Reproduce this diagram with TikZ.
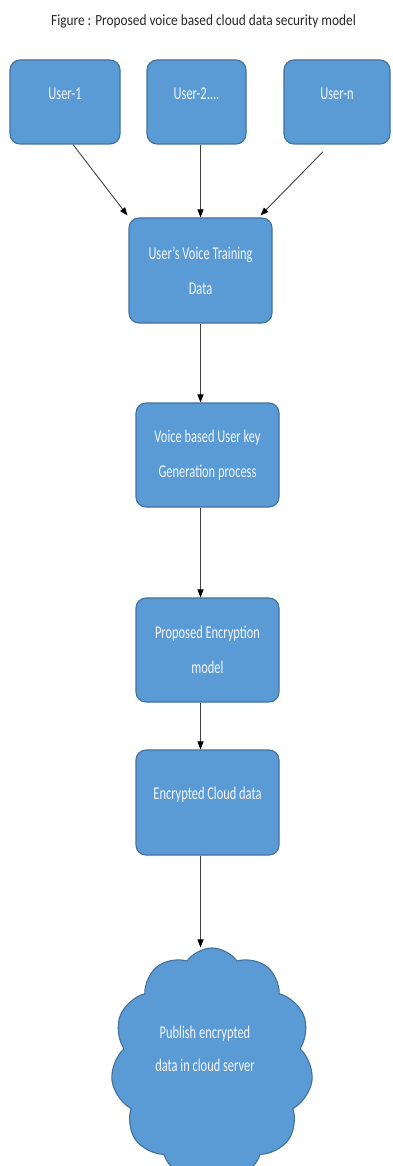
\documentclass[tikz,border=0pt]{standalone}
\usepackage{fontspec}
\setmainfont{Carlito}
\newfontfamily\boxfont{Carlito}[FakeStretch=0.69]
\newfontfamily\titlefont{Carlito}[FakeStretch=0.86]
\usetikzlibrary{shapes.symbols,arrows.meta}
\definecolor{boxfill}{HTML}{5B9BD5}
\definecolor{boxline}{HTML}{41719C}
\definecolor{boxtext}{HTML}{F2F6FB}
\definecolor{titletext}{HTML}{262626}
\definecolor{linegray}{HTML}{404040}
\tikzset{
  box/.style={draw=boxline, line width=1.1pt, fill=boxfill, rounded corners=10pt,
    inner sep=0pt, align=center, text=boxtext,
    font=\boxfont\fontsize{18}{35}\selectfont},
  flow/.style={draw=linegray, line width=0.9pt, -{Triangle[length=8pt,width=6pt,color=black,fill=black]}},
}
\newcommand{\upline}[1]{\raisebox{8pt}[\height][\depth]{#1}}
\begin{document}
\begin{tikzpicture}[x=1pt,y=-1pt]
\useasboundingbox (0,0) rectangle (392,1166);
\fill[white] (0,0) rectangle (392,1166);
\node[anchor=base, text=titletext, font=\titlefont\fontsize{15.5}{18}\selectfont, inner sep=0pt] (title) at (203.5,26) {Figure : Proposed voice based cloud data security model};

\node[box, minimum width=110pt, minimum height=84pt] (user1) at (65,102) {\upline{User-1}};
\node[box, minimum width=99pt, minimum height=84pt] (user2) at (196.5,102) {\upline{User-2....}};
\node[box, minimum width=106pt, minimum height=84pt] (usern) at (337,102) {\upline{User-n}};

\node[box, minimum width=143pt, minimum height=105pt] (train) at (200.5,270.5) {User’s Voice Training\\Data};
\node[box, minimum width=143pt, minimum height=104pt] (key) at (207.5,455) {Voice based User key\\Generation process};
\node[box, minimum width=143pt, minimum height=104pt] (enc) at (207.5,650) {Proposed Encryption\\model};
\node[box, minimum width=143pt, minimum height=105pt] (encd) at (207.5,802.5) {\upline{Encrypted Cloud data}};

\node[cloud, cloud puffs=11, cloud puff arc=110, cloud ignores aspect, draw=boxline, line width=1.1pt, fill=boxfill,
  minimum width=202pt, minimum height=232pt, inner sep=0pt] (cloud) at (212,1064) {};
\node[align=center, text=boxtext, font=\boxfont\fontsize{18}{33}\selectfont, inner sep=0pt] (cloudtext) at (205,1049) {Publish encrypted\\data in cloud server};

\draw[flow] ([xshift=8pt]user1.south) -- ([xshift=-1pt,yshift=2pt]train.north west);
\draw[flow] (train.north |- user2.south) -- (train.north);
\draw[flow, shorten <=10pt] ([xshift=-7pt]usern.south) -- ([xshift=-12pt,yshift=2pt]train.north east);
\draw[flow] (train.south) -- (train.south |- key.north);
\draw[flow] (train.south |- key.south) -- (train.south |- enc.north);
\draw[flow] (train.south |- enc.south) -- (train.south |- encd.north);
\draw[flow] (train.south |- encd.south) -- (train.south |- cloud.north);
\end{tikzpicture}
\end{document}
